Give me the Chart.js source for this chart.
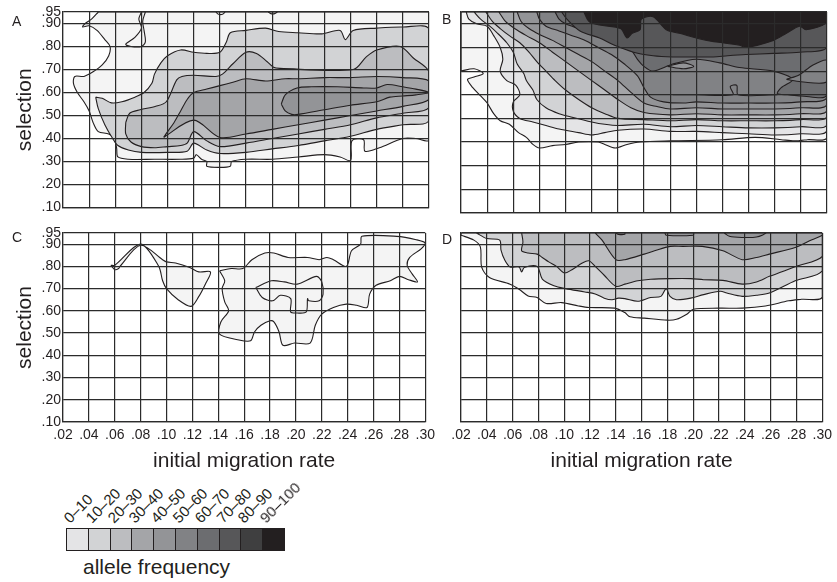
<!DOCTYPE html>
<html><head><meta charset="utf-8">
<script src="https://cdn.jsdelivr.net/npm/chart.js@4.4.1/dist/chart.umd.min.js"></script>
<style>
html,body{margin:0;padding:0;background:#fff;}
#wrap{position:relative;width:837px;height:582px;overflow:hidden;font-family:"Liberation Sans",Arial,Helvetica,sans-serif;color:#231f20;}
canvas{position:absolute;}
.letter{position:absolute;font-size:14px;line-height:1;}
.sw{position:absolute;top:528px;height:23px;border:1px solid #231f20;border-right:none;box-sizing:border-box;}
.ll{position:absolute;font-size:15px;line-height:15px;white-space:nowrap;transform-origin:0 13px;transform:rotate(-45deg);}
#af{position:absolute;left:83px;top:556px;font-size:21px;line-height:21px;}
</style></head><body><div id="wrap">
<canvas id="cA" width="440" height="218" style="left:0;top:0"></canvas>
<canvas id="cB" width="397" height="219" style="left:440px;top:0"></canvas>
<canvas id="cC" width="440" height="262" style="left:0;top:220px"></canvas>
<canvas id="cD" width="397" height="262" style="left:440px;top:220px"></canvas>
<div class="letter" style="left:12px;top:14px">A</div>
<div class="letter" style="left:442px;top:12px">B</div>
<div class="letter" style="left:12px;top:230px">C</div>
<div class="letter" style="left:442px;top:232px">D</div>
<div id="legend"></div>
<div id="af">allele frequency</div>
</div>
<script>
// ---------- axes ----------
const xTicks = [0.02,0.04,0.06,0.08,0.10,0.12,0.14,0.16,0.18,0.20,0.22,0.24,0.26,0.28,0.30];
const yTicks = [0.10,0.20,0.30,0.40,0.50,0.60,0.70,0.80,0.90,0.95];
const xTitle = 'initial migration rate';
const yTitle = 'selection';

// ---------- legend ----------
const legendLabels = ['0\u201310','10\u201320','20\u201330','30\u201340','40\u201350','50\u201360','60\u201370','70\u201380','80\u201390','90\u2013100'];
const legendColors = ['#e4e4e6','#d2d3d5','#bcbdc0','#a4a5a8','#939497','#818285','#6c6d70','#575759','#3f3f40','#231f20'];
const plotLight = '#f4f4f4';

// ---------- panel A contours ----------
const A_lvl1 = [[.047,.95],[.042,.92],[.037,.90],[.035,.885],[.040,.89],[.046,.87],[.052,.83],[.056,.80],[.055,.76],[.050,.72],[.043,.69],[.036,.67],[.029,.67],[.028,.64],[.031,.60],[.036,.56],[.040,.52],[.043,.47],[.047,.43],[.055,.42],[.059,.40],[.061,.36],[.062,.32],[.070,.31],[.09,.31],[.11,.31],[.12,.315],[.122,.33],[.126,.31],[.130,.30],[.130,.28],[.140,.275],[.148,.28],[.149,.30],[.16,.31],[.18,.31],[.20,.32],[.22,.33],[.232,.32],[.240,.305],[.241,.39],[.250,.395],[.251,.345],[.262,.36],[.28,.40],[.29,.40],[.30,.395],[.30,.95],[.047,.95]];
const A_lvl2 = [[.045,.58],[.05,.575],[.057,.555],[.065,.56],[.075,.58],[.082,.60],[.088,.64],[.09,.68],[.095,.73],[.10,.76],[.11,.785],[.12,.775],[.13,.77],[.14,.775],[.145,.82],[.148,.86],[.16,.87],[.175,.88],[.185,.865],[.20,.86],[.218,.855],[.232,.87],[.236,.83],[.242,.87],[.26,.88],[.28,.885],[.30,.875],[.30,.48],[.28,.46],[.26,.44],[.24,.41],[.22,.39],[.20,.37],[.18,.355],[.16,.34],[.14,.335],[.13,.35],[.12,.38],[.115,.345],[.10,.34],[.08,.34],[.07,.35],[.062,.37],[.058,.40],[.052,.46],[.047,.53],[.045,.58]];
const A_lvl3 = [[.068,.47],[.071,.51],[.079,.525],[.091,.54],[.099,.56],[.107,.655],[.111,.67],[.12,.675],[.137,.67],[.142,.68],[.15,.725],[.16,.775],[.168,.77],[.176,.735],[.181,.71],[.186,.705],[.242,.70],[.252,.755],[.26,.785],[.278,.80],[.288,.75],[.30,.69],[.30,.535],[.28,.51],[.26,.49],[.24,.46],[.22,.44],[.20,.42],[.18,.40],[.16,.38],[.14,.365],[.13,.39],[.12,.43],[.115,.38],[.11,.37],[.10,.365],[.09,.36],[.08,.365],[.072,.385],[.068,.42],[.068,.47]];
const A_lvl4 = [[.097,.405],[.10,.43],[.105,.47],[.11,.52],[.115,.57],[.12,.60],[.13,.615],[.14,.63],[.15,.645],[.16,.66],[.175,.65],[.19,.66],[.20,.66],[.22,.665],[.24,.665],[.26,.67],[.28,.665],[.30,.65],[.30,.57],[.28,.54],[.26,.52],[.24,.50],[.22,.48],[.20,.46],[.18,.44],[.16,.42],[.14,.405],[.12,.48],[.097,.405]];
const A_lvl5 = [[.187,.55],[.19,.59],[.199,.62],[.21,.625],[.23,.625],[.25,.62],[.26,.62],[.268,.635],[.28,.625],[.29,.615],[.30,.60],[.29,.59],[.28,.585],[.27,.58],[.26,.56],[.24,.545],[.22,.525],[.20,.505],[.195,.505],[.19,.52],[.187,.55]];
const A_loop = [[.08,.95],[.078,.92],[.08,.88],[.075,.84],[.068,.81],[.072,.80],[.08,.80],[.083,.82],[.082,.87],[.081,.91],[.083,.95]];
const A_bump1 = [[.137,.95],[.139,.94],[.142,.94],[.144,.95]];
const A_bump2 = [[.177,.95],[.179,.943],[.182,.943],[.184,.95]];

// ---------- panel B contours ----------
const B_lvl1 = [[.02,.70],[.03,.71],[.037,.69],[.03,.675],[.025,.665],[.029,.63],[.035,.595],[.04,.565],[.045,.52],[.05,.49],[.057,.475],[.064,.44],[.07,.42],[.075,.39],[.08,.375],[.09,.385],[.10,.39],[.11,.40],[.125,.40],[.13,.39],[.138,.375],[.147,.39],[.157,.40],[.18,.405],[.22,.41],[.245,.42],[.265,.41],[.275,.405],[.285,.41],[.30,.42],[.30,.95],[.02,.95],[.02,.70]];
const B_lvl2 = [[.024,.95],[.026,.92],[.032,.90],[.04,.89],[.045,.85],[.05,.80],[.052,.75],[.05,.70],[.055,.66],[.062,.64],[.065,.60],[.06,.57],[.06,.53],[.065,.50],[.075,.485],[.085,.47],[.095,.455],[.11,.44],[.12,.43],[.13,.44],[.14,.45],[.16,.455],[.18,.445],[.20,.445],[.22,.44],[.24,.435],[.26,.43],[.28,.435],[.30,.45],[.30,.95],[.024,.95]];
const B_lvl3 = [[.03,.95],[.035,.92],[.042,.89],[.048,.86],[.055,.82],[.06,.78],[.063,.73],[.068,.69],[.07,.66],[.075,.62],[.078,.58],[.085,.545],[.095,.52],[.105,.505],[.12,.485],[.13,.475],[.14,.47],[.16,.475],[.18,.465],[.20,.47],[.22,.465],[.24,.46],[.26,.46],[.28,.465],[.30,.475],[.30,.95],[.03,.95]];
const B_lvl4 = [[.039,.95],[.044,.91],[.05,.88],[.057,.85],[.065,.82],[.072,.78],[.078,.74],[.085,.70],[.092,.66],[.10,.62],[.11,.58],[.12,.545],[.13,.52],[.14,.50],[.16,.495],[.18,.49],[.20,.495],[.22,.49],[.24,.49],[.26,.49],[.28,.495],[.30,.51],[.30,.95],[.039,.95]];
const B_lvl5 = [[.049,.95],[.054,.91],[.061,.88],[.07,.85],[.08,.82],[.09,.78],[.10,.74],[.11,.70],[.12,.66],[.13,.62],[.14,.58],[.15,.545],[.16,.525],[.18,.515],[.20,.52],[.22,.515],[.24,.515],[.26,.515],[.28,.52],[.30,.535],[.30,.95],[.049,.95]];
const B_lvl6 = [[.063,.95],[.066,.91],[.072,.88],[.08,.855],[.09,.83],[.10,.80],[.11,.77],[.12,.74],[.13,.70],[.14,.66],[.15,.61],[.16,.565],[.17,.55],[.18,.54],[.20,.545],[.22,.54],[.24,.54],[.26,.54],[.28,.545],[.30,.56],[.30,.95],[.063,.95]];
const B_lvl7 = [[.078,.95],[.08,.92],[.085,.89],[.095,.87],[.105,.85],[.115,.83],[.125,.80],[.135,.77],[.145,.73],[.155,.68],[.16,.63],[.165,.59],[.175,.57],[.19,.565],[.20,.57],[.22,.565],[.24,.565],[.26,.565],[.28,.57],[.30,.59],[.30,.95],[.078,.95]];
const B_lvl8 = [[.092,.95],[.095,.92],[.10,.90],[.11,.88],[.12,.86],[.13,.84],[.14,.82],[.15,.79],[.155,.75],[.16,.72],[.167,.70],[.182,.73],[.20,.75],[.218,.735],[.233,.715],[.259,.70],[.274,.665],[.265,.63],[.262,.605],[.27,.60],[.28,.595],[.30,.60],[.30,.95],[.092,.95]];
const B_lvl9 = [[.097,.95],[.101,.92],[.111,.87],[.126,.84],[.137,.81],[.152,.78],[.167,.765],[.182,.76],[.198,.76],[.213,.76],[.224,.765],[.238,.77],[.259,.775],[.279,.78],[.30,.80],[.30,.95],[.097,.95]];
const B_lvl10 = [[.114,.95],[.118,.91],[.126,.895],[.142,.88],[.147,.84],[.151,.86],[.157,.875],[.158,.92],[.167,.93],[.177,.875],[.187,.86],[.208,.83],[.233,.81],[.238,.80],[.259,.83],[.269,.86],[.279,.89],[.284,.875],[.30,.905],[.30,.95],[.114,.95]];
const B_pocket = [[.269,.665],[.279,.685],[.289,.725],[.30,.745],[.30,.655],[.28,.655],[.269,.665]];
const B_diamond = [[.178,.72],[.19,.735],[.198,.72],[.19,.71],[.178,.72]];
const B_flat = [[.182,.60],[.20,.60],[.228,.60],[.226,.635],[.231,.64],[.232,.60],[.262,.60]];

// ---------- panel C contours ----------
const C_left = [[.057,.805],[.06,.785],[.063,.79],[.064,.80],[.08,.895],[.097,.83],[.10,.82],[.107,.815],[.118,.795],[.125,.775],[.134,.775],[.13,.72],[.125,.665],[.119,.62],[.109,.65],[.10,.70],[.097,.735],[.094,.80],[.08,.90],[.06,.805],[.057,.805]];
const C_right = [[.141,.78],[.15,.79],[.159,.79],[.166,.83],[.176,.86],[.183,.86],[.194,.84],[.209,.84],[.218,.83],[.224,.84],[.229,.83],[.239,.80],[.243,.87],[.25,.90],[.251,.935],[.278,.935],[.293,.92],[.30,.905],[.297,.88],[.288,.84],[.286,.805],[.29,.765],[.294,.73],[.287,.74],[.28,.755],[.273,.735],[.262,.715],[.257,.675],[.255,.615],[.247,.625],[.239,.63],[.229,.615],[.22,.585],[.215,.535],[.211,.455],[.199,.455],[.19,.445],[.187,.505],[.183,.55],[.18,.555],[.173,.535],[.168,.505],[.165,.465],[.155,.47],[.141,.495],[.142,.55],[.148,.60],[.145,.64],[.143,.70],[.145,.735],[.141,.78]];
const C_hole = [[.169,.705],[.181,.735],[.191,.73],[.201,.72],[.216,.755],[.22,.73],[.221,.675],[.218,.645],[.21,.645],[.209,.655],[.208,.595],[.201,.59],[.196,.595],[.196,.655],[.188,.67],[.182,.645],[.174,.66],[.169,.705]];

// ---------- panel D contours ----------
const D_lvl1 = [[.02,.94],[.03,.918],[.035,.888],[.036,.797],[.042,.75],[.058,.72],[.065,.697],[.072,.667],[.079,.66],[.086,.633],[.098,.637],[.111,.622],[.119,.615],[.139,.612],[.147,.592],[.151,.573],[.162,.567],[.18,.558],[.187,.562],[.195,.585],[.20,.607],[.22,.612],[.238,.612],[.256,.622],[.274,.645],[.284,.652],[.30,.662],[.30,.95],[.02,.95],[.02,.94]];
const D_lvl2 = [[.032,.95],[.04,.925],[.05,.918],[.051,.873],[.054,.827],[.058,.797],[.065,.797],[.067,.775],[.069,.795],[.079,.80],[.083,.743],[.092,.713],[.101,.70],[.116,.685],[.124,.676],[.131,.657],[.137,.65],[.142,.657],[.147,.655],[.157,.643],[.167,.66],[.175,.665],[.179,.70],[.182,.665],[.187,.65],[.198,.657],[.208,.673],[.221,.688],[.226,.68],[.238,.665],[.249,.67],[.259,.68],[.279,.735],[.30,.78],[.30,.95],[.032,.95]];
const D_lvl3 = [[.067,.95],[.068,.91],[.067,.87],[.072,.86],[.079,.855],[.083,.84],[.088,.82],[.094,.80],[.10,.77],[.106,.785],[.114,.815],[.119,.825],[.124,.80],[.131,.76],[.14,.71],[.147,.72],[.157,.735],[.167,.742],[.182,.745],[.198,.745],[.208,.74],[.223,.737],[.238,.72],[.249,.73],[.259,.755],[.28,.80],[.30,.845],[.30,.95],[.067,.95]];
const D_lvl4 = [[.124,.95],[.129,.92],[.14,.83],[.147,.83],[.162,.855],[.17,.87],[.182,.89],[.192,.89],[.207,.89],[.223,.87],[.238,.83],[.249,.84],[.259,.855],[.279,.885],[.292,.92],[.30,.94],[.30,.95],[.124,.95]];
const D_lvl5a = [[.178,.95],[.179,.94],[.20,.94],[.20,.95],[.178,.95]];
const D_lvl5b = [[.224,.95],[.228,.935],[.238,.93],[.249,.932],[.256,.95],[.224,.95]];
const D_lvl5c = [[.14,.95],[.142,.944],[.147,.944],[.147,.95]];

// ---------- rendering ----------
const ink = '#231f20';
const gridInk = '#2b2b2b';
const fontFam = "'Liberation Sans', Arial, Helvetica, sans-serif";
const fmt = v => Number(v).toFixed(2).replace(/^0/, '');

function panel(id, layers, cfg) {
  const n = layers.length;
  const datasets = layers.map((L, i) => ({
    data: L.pts.map(p => ({x: p[0], y: p[1]})),
    showLine: true,
    fill: L.color ? 'shape' : false,
    backgroundColor: L.color || 'rgba(0,0,0,0)',
    borderColor: ink,
    borderWidth: 1.1,
    pointRadius: 0,
    pointHoverRadius: 0,
    tension: 0.3,
    order: n - i
  }));
  new Chart(document.getElementById(id), {
    type: 'scatter',
    data: {datasets},
    options: {
      responsive: false,
      animation: false,
      events: [],
      layout: {padding: cfg.pad},
      plugins: {legend: {display: false}, tooltip: {enabled: false}},
      scales: {
        x: {
          type: 'linear', min: 0.02, max: 0.30,
          afterBuildTicks: s => { s.ticks = xTicks.map(v => ({value: v})); },
          afterFit: s => { s.height = cfg.xH; },
          ticks: {display: cfg.xLab, padding: 5, autoSkip: false, maxRotation: 0,
                  color: ink, font: {family: fontFam, size: 14}, callback: v => fmt(v)},
          grid: {color: gridInk, lineWidth: 1.2, drawTicks: false, z: 1},
          border: {display: true, color: gridInk, width: 1.2, z: 1},
          title: {display: cfg.xLab, text: xTitle, color: ink,
                  font: {family: fontFam, size: 21}, padding: {top: 0, bottom: 8}}
        },
        y: {
          type: 'linear', min: 0.10, max: 0.95,
          afterBuildTicks: s => { s.ticks = yTicks.map(v => ({value: v})); },
          afterFit: s => { s.width = cfg.yW; },
          ticks: {display: cfg.yLab, padding: 2, autoSkip: false,
                  color: ink, font: {family: fontFam, size: 14}, callback: v => fmt(v)},
          grid: {color: gridInk, lineWidth: 1.2, drawTicks: false, z: 1},
          border: {display: true, color: gridInk, width: 1.2, z: 1},
          title: {display: cfg.yLab, text: yTitle, color: ink,
                  font: {family: fontFam, size: 21}, padding: {top: 13, bottom: 0}}
        }
      }
    }
  });
}

panel('cA', [
  {pts: A_lvl1, color: plotLight},
  {pts: A_lvl2, color: legendColors[1]},
  {pts: A_lvl3, color: legendColors[2]},
  {pts: A_lvl4, color: legendColors[3]},
  {pts: A_lvl5, color: legendColors[4]},
  {pts: A_loop}, {pts: A_bump1}, {pts: A_bump2}
], {pad: {top: 12, right: 11, left: 0, bottom: 0}, xH: 6, yW: 63, xLab: false, yLab: true});

panel('cB', [
  {pts: B_lvl1, color: plotLight},
  {pts: B_lvl2, color: legendColors[0]},
  {pts: B_lvl3, color: legendColors[1]},
  {pts: B_lvl4, color: legendColors[2]},
  {pts: B_lvl5, color: legendColors[3]},
  {pts: B_lvl6, color: legendColors[4]},
  {pts: B_lvl7, color: legendColors[5]},
  {pts: B_lvl8, color: legendColors[6]},
  {pts: B_lvl9, color: legendColors[7]},
  {pts: B_lvl10, color: legendColors[9]},
  {pts: B_pocket, color: legendColors[5]},
  {pts: B_diamond, color: legendColors[4]},
  {pts: B_flat}
], {pad: {top: 12, right: 10, left: 21, bottom: 0}, xH: 6, yW: 0, xLab: false, yLab: false});

panel('cC', [
  {pts: C_left, color: plotLight},
  {pts: C_right, color: plotLight},
  {pts: C_hole}
], {pad: {top: 13, right: 11, left: 0, bottom: 0}, xH: 60, yW: 63, xLab: true, yLab: true});

panel('cD', [
  {pts: D_lvl1, color: plotLight},
  {pts: D_lvl2, color: legendColors[1]},
  {pts: D_lvl3, color: legendColors[2]},
  {pts: D_lvl4, color: legendColors[3]},
  {pts: D_lvl5a, color: legendColors[4]},
  {pts: D_lvl5b, color: legendColors[4]},
  {pts: D_lvl5c}
], {pad: {top: 13, right: 10, left: 21, bottom: 0}, xH: 60, yW: 0, xLab: true, yLab: false});

// legend swatches and labels
const lg = document.getElementById('legend');
const swLeft = 66, swW = 21.8;
legendColors.forEach((c, i) => {
  const d = document.createElement('div');
  d.className = 'sw';
  d.style.left = (swLeft + i * swW) + 'px';
  d.style.width = (swW + (i === legendColors.length - 1 ? 1 : 0)) + 'px';
  if (i === legendColors.length - 1) d.style.borderRight = '1px solid #231f20';
  d.style.background = c;
  lg.appendChild(d);
  const t = document.createElement('div');
  t.className = 'll';
  t.textContent = legendLabels[i];
  t.style.left = (swLeft + i * swW + 4) + 'px';
  t.style.top = (524 - 13) + 'px';
  lg.appendChild(t);
});
</script>
</body></html>
